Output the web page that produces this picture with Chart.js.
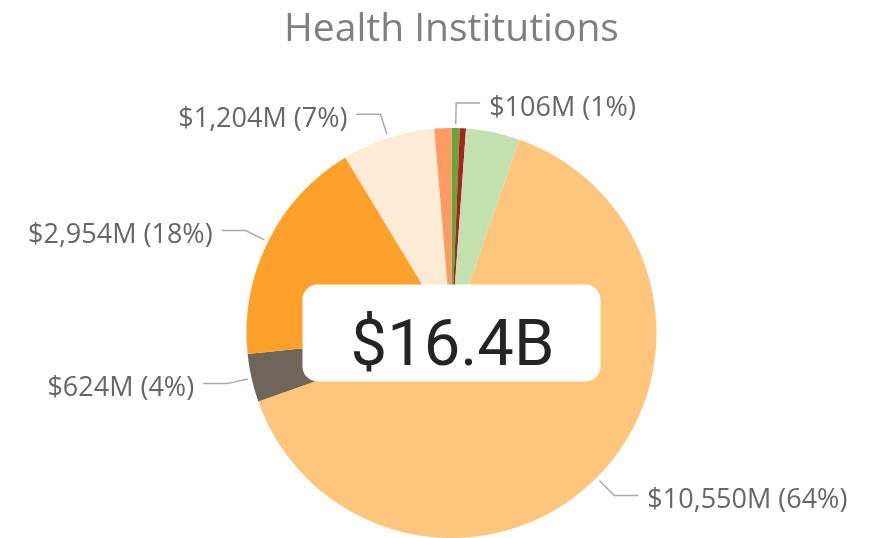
<!DOCTYPE html>
<html>
<head>
<meta charset="utf-8">
<script src="https://cdn.jsdelivr.net/npm/chart.js@4/dist/chart.umd.min.js"></script>
<style>
  html, body { margin: 0; padding: 0; background: #ffffff; }
  #wrap { width: 881px; height: 538px; position: relative; }
</style>
</head>
<body>
<div id="wrap"><canvas id="pie"></canvas></div>
<script>
// Spending by institution type, in millions of dollars (clockwise from 12 o'clock)
const categories = ['Public Health', 'Research', 'Clinics', 'Hospitals', 'Long-Term Care', 'Physician Services', 'Other Institutions', 'Administration'];
const amounts    = [106, 80, 700, 10550, 624, 2954, 1204, 220];
// which slices carry an outside data label
const showLabel  = [true, false, false, true, true, true, true, false];
const palette    = ['#69A63A', '#A8241E', '#C3E1AF', '#FEC57D', '#6E6658', '#FDA12A', '#FEEBD6', '#FE9B62'];

const titleText = 'Health Institutions';
const total = amounts.reduce((a, b) => a + b, 0);

function labelText(v) {
  const pct = Math.round(v / total * 100);
  return '$' + v.toLocaleString('en-US') + 'M (' + pct + '%)';
}
function totalText() {
  return '$' + (total / 1000).toFixed(1) + 'B';
}

// Outside labels with elbow leader lines, anchored to each arc element
const leaderLabels = {
  id: 'leaderLabels',
  afterDatasetsDraw(chart) {
    const ctx = chart.ctx;
    const meta = chart.getDatasetMeta(0);
    ctx.save();
    ctx.font = '27px "Open Sans", sans-serif';
    ctx.lineWidth = 1.5;
    ctx.strokeStyle = '#A9A9A9';
    ctx.fillStyle = '#666666';
    ctx.textBaseline = 'alphabetic';
    meta.data.forEach((arc, i) => {
      if (!showLabel[i]) return;
      const mid = (arc.startAngle + arc.endAngle) / 2;
      const r = arc.outerRadius;
      const cos = Math.cos(mid), sin = Math.sin(mid);
      const x0 = arc.x + cos * (r + 4), y0 = arc.y + sin * (r + 4);
      const x1 = arc.x + cos * (r + 25), y1 = arc.y + sin * (r + 25);
      const right = cos >= 0;
      const x2 = x1 + (right ? 24 : -24);
      ctx.beginPath();
      ctx.moveTo(x0, y0);
      ctx.lineTo(x1, y1);
      ctx.lineTo(x2, y1);
      ctx.stroke();
      ctx.textAlign = right ? 'left' : 'right';
      ctx.fillText(labelText(amounts[i]), x2 + (right ? 9 : -9), y1 + 12.5);
    });
    ctx.restore();
  }
};

// Total callout card in the middle of the pie
const centerCard = {
  id: 'centerCard',
  afterDraw(chart) {
    const ctx = chart.ctx;
    const arc = chart.getDatasetMeta(0).data[0];
    const cx = arc.x, cy = arc.y;
    const w = 298, h = 97, rad = 15;
    ctx.save();
    ctx.fillStyle = '#ffffff';
    ctx.beginPath();
    ctx.roundRect(cx - w / 2, cy - h / 2, w, h, rad);
    ctx.fill();
    ctx.fillStyle = '#252423';
    ctx.font = '65px Roboto, sans-serif';
    ctx.textAlign = 'center';
    ctx.textBaseline = 'alphabetic';
    ctx.fillText(totalText(), cx + 1, cy + 31.5);
    ctx.restore();
  }
};

new Chart(document.getElementById('pie'), {
  type: 'pie',
  data: {
    labels: categories,
    datasets: [{
      data: amounts,
      backgroundColor: palette,
      borderWidth: 0,
      hoverOffset: 0
    }]
  },
  options: {
    responsive: true,
    maintainAspectRatio: false,
    animation: false,
    layout: { padding: { left: 22, right: 0, top: 0, bottom: 0 } },
    plugins: {
      legend: { display: false },
      tooltip: { enabled: false },
      title: {
        display: true,
        text: titleText,
        color: '#7F7F7F',
        font: { family: '"Open Sans", sans-serif', size: 39, weight: 'normal', lineHeight: 1.2 },
        padding: { top: 6, bottom: 75.2 }
      }
    }
  },
  plugins: [leaderLabels, centerCard]
});
</script>
</body>
</html>
